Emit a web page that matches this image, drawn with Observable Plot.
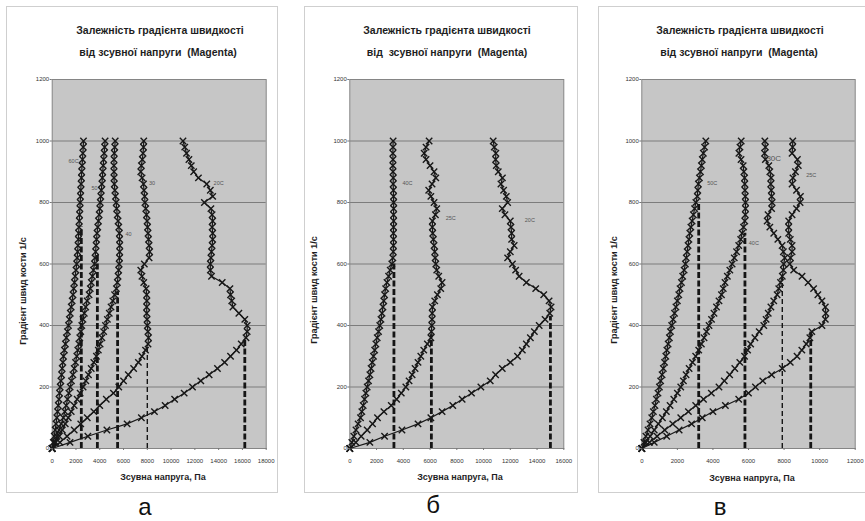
<!DOCTYPE html>
<html><head><meta charset="utf-8">
<script src="https://cdn.jsdelivr.net/npm/d3@7"></script>
<script src="https://cdn.jsdelivr.net/npm/@observablehq/plot@0.6"></script>
<style>
body{margin:0;background:#fff;font-family:"Liberation Sans",Arial,sans-serif;}
#wrap{position:relative;width:865px;height:521px;overflow:hidden;background:#fff;}
.frame{position:absolute;border:1px solid #cfcfcf;box-sizing:border-box;}
.t{position:absolute;transform:translate(-50%,-50%);white-space:pre;color:#1e1e1e;line-height:1;}
.title{font-weight:bold;font-size:10.5px;}
.xt{font-weight:bold;font-size:9px;}
.yt{font-weight:bold;font-size:9px;transform:translate(-50%,-50%) rotate(-90deg);}
.big{font-size:24px;color:#111;}
.panel{position:absolute;top:60px;}
</style></head>
<body><div id="wrap"></div>
<script>
// shared shear-rate grid (1/s)
const Y = [0,20,40,60,80,100,120,140,160,180,200,220,240,260,280,300,320,340,360,380,400,420,440,460,480,500,520,540,560,580,600,620,640,660,680,700,720,740,760,780,800,820,840,860,880,900,920,940,960,980,1000];

// panel а : shear stress (Pa) at each Y
const a_60C = [0,90,170,250,320,390,450,510,570,620,670,730,790,840,900,950,1030,1110,1190,1280,1370,1440,1520,1600,1680,1750,1810,1870,1930,2000,2060,2100,2140,2170,2200,2220,2250,2280,2300,2330,2350,2380,2400,2430,2460,2480,2510,2550,2580,2610,2630];
const a_50 = [0,200,390,580,760,940,1060,1180,1290,1400,1510,1620,1740,1850,1960,2070,2150,2240,2320,2400,2490,2590,2700,2820,2940,3100,3200,3290,3380,3470,3560,3600,3650,3690,3730,3770,3830,3890,3950,4000,4040,4090,4130,4180,4220,4250,4290,4330,4370,4410,4450];
const a_40 = [0,300,600,850,1100,1350,1600,1850,2100,2350,2600,2830,3050,3280,3500,3720,3880,4030,4180,4330,4480,4640,4800,4950,5100,5250,5400,5480,5540,5590,5630,5660,5680,5680,5670,5650,5600,5540,5470,5420,5380,5320,5270,5220,5200,5200,5190,5200,5220,5260,5300];
const a_30 = [0,650,1250,1850,2400,2950,3500,4000,4550,5150,5600,6000,6400,6850,7250,7550,7850,8060,8100,8050,8000,7980,7950,7950,7960,7950,7900,7700,7550,7450,7750,8150,8200,8150,8100,8060,8020,7980,7930,7870,7800,7780,7720,7680,7560,7450,7500,7580,7640,7680,7700];
const a_20C = [0,1500,3000,4600,6300,7500,8600,9500,10300,11100,11800,12500,13200,13900,14500,15000,15500,15900,16300,16400,16400,16200,15700,15200,15100,15000,14950,14300,13400,13300,13300,13350,13400,13450,13500,13500,13450,13500,13450,13350,12800,13500,13300,13000,12300,11900,11700,11500,11300,11150,11000];
const a_dashX = [2450,3800,5500,8000,16200];
const a_dashTop = [720,630,510,330,360];
const a_dashName = ["60C","50","40","30","20C"];
const a_labels = ["60C","50","40","30","20C"];
const a_labelX = [1800,3560,6420,8400,14000];
const a_labelY = [935,846,697,862,862];
const a_xticks = [0,2000,4000,6000,8000,10000,12000,14000,16000,18000];

// panel б
const b_40C = [0,150,300,460,620,800,900,1000,1100,1200,1300,1400,1500,1590,1680,1770,1860,1950,2050,2150,2240,2330,2410,2480,2540,2600,2680,2780,2900,3020,3140,3220,3250,3260,3270,3260,3270,3280,3270,3280,3280,3270,3260,3240,3250,3230,3220,3230,3220,3230,3240];
const b_25C = [0,450,850,1300,1700,2070,2550,3100,3500,3850,4190,4430,4660,4880,5100,5310,5530,5800,6060,6100,6130,6150,6160,6180,6350,6550,6800,6900,6650,6500,6430,6380,6350,6300,6250,6200,6170,6180,6400,6500,6300,6060,5900,6150,6430,6300,6000,5700,5560,5700,5930];
const b_20C = [0,1500,2600,3900,5100,6060,6900,7700,8400,9100,9800,10500,10900,11400,12000,12540,12900,13200,13500,13800,14160,14600,14950,15050,14900,14500,13900,13200,12660,12400,12160,11800,12000,12290,12100,12100,12050,12000,11600,11400,11800,11700,11500,11300,11410,11100,10950,10900,10920,10800,10720];
const b_dashX = [3300,6100,15000];
const b_dashTop = [600,370,430];
const b_dashName = ["40C","25C","20C"];
const b_labels = ["40C","25C","20C"];
const b_labelX = [4310,7550,13460];
const b_labelY = [862,750,742];
const b_xticks = [0,2000,4000,6000,8000,10000,12000,14000,16000];

// panel в
const c_50C = [0,120,230,350,460,560,650,740,820,910,990,1060,1140,1210,1280,1350,1410,1480,1550,1610,1680,1760,1840,1920,2000,2080,2150,2230,2300,2380,2450,2500,2550,2600,2650,2700,2760,2830,2900,2970,3040,3120,3150,3180,3240,3300,3350,3400,3460,3530,3600];
const c_40C = [0,230,470,700,930,1160,1380,1590,1800,2000,2190,2340,2490,2660,2850,3030,3200,3350,3500,3640,3780,3920,4060,4200,4340,4480,4580,4680,4810,4950,5080,5200,5330,5450,5560,5640,5720,5790,5820,5830,5830,5820,5800,5790,5780,5740,5700,5580,5460,5520,5590];
const c_30C = [0,430,860,1290,1740,2190,2620,3030,3470,3910,4340,4640,4940,5230,5510,5780,5950,6120,6360,6600,6860,6990,7110,7260,7420,7610,7700,7800,7900,7960,7980,8040,7960,7890,7650,7420,7200,7050,7100,7300,7330,7300,7280,7250,7270,7200,7140,6950,6900,6950,6920];
const c_25C = [0,700,1400,2100,2800,3400,4000,4700,5450,6000,6390,6800,7300,7900,8350,8730,9000,9250,9450,9560,10130,10320,10350,10320,10130,9900,9660,9350,9010,8540,8320,8360,8450,8450,8350,8260,8260,8260,8450,8700,8900,8920,8700,8450,8500,8640,8800,8750,8450,8480,8490];
const c_dashX = [3200,5800,7900,9500];
const c_dashTop = [800,700,570,380];
const c_dashName = ["50C","40C","30C","25C"];
const c_labels = ["50C","40C","30C","25C"];
const c_labelX = [3960,6300,7420,9530];
const c_labelY = [862,666,942,888];
const c_xticks = [0,2000,4000,6000,8000,10000,12000];

const yticks = [0,200,400,600,800,1000,1200];
const gridY = [200,400,600,800,1000];

const wrap = document.getElementById("wrap");
function addText(cls, txt, x, y){
  const d = document.createElement("div");
  d.className = "t " + cls; d.textContent = txt;
  d.style.left = x + "px"; d.style.top = y + "px";
  wrap.appendChild(d);
}
function addFrame(l,t,w,h){
  const d = document.createElement("div");
  d.className = "frame";
  Object.assign(d.style,{left:l+"px",top:t+"px",width:w+"px",height:h+"px"});
  wrap.appendChild(d);
}

function panel(cfg){
  const pts = [];
  cfg.curves.forEach(([name, xs]) => xs.forEach((x,i) => pts.push({x, y:Y[i], s:name})));
  const dashes = cfg.dashX.map((x,i) => ({x, top:cfg.dashTop[i], s:cfg.dashName[i]}));
  const labs = cfg.labels.map((t,i) => ({t, x:cfg.labelX[i], y:cfg.labelY[i]}));
  const thin = cfg.thin;
  const chart = Plot.plot({
    width: cfg.width, height: 420,
    marginLeft: cfg.ml, marginRight: cfg.mr, marginTop: 19, marginBottom: 32,
    style: {background:"transparent", fontFamily:"'Liberation Sans', Arial, sans-serif", fontSize:"6px", overflow:"visible"},
    x: {domain:[0, cfg.xmax]},
    y: {domain:[0,1200]},
    marks: [
      Plot.frame({fill:"#c6c6c6", stroke:null}),
      Plot.ruleY(gridY, {stroke:"#7c7c7c", strokeWidth:1}),
      Plot.frame({stroke:"#858585", strokeWidth:1}),
      Plot.ruleX(dashes.filter(d => d.s !== thin), {x:"x", y1:0, y2:"top", stroke:"#151515", strokeWidth:2.8, strokeDasharray:"6,2.5"}),
      Plot.ruleX(dashes.filter(d => d.s === thin), {x:"x", y1:0, y2:"top", stroke:"#151515", strokeWidth:1.4, strokeDasharray:"5,3"}),
      Plot.line(pts, {x:"x", y:"y", z:"s", stroke:"#181818", strokeWidth:1.2}),
      Plot.dot(pts, {x:"x", y:"y", symbol:"times", r:3, stroke:"#181818", strokeWidth:1.4}),
      Plot.text(labs, {x:"x", y:"y", text:"t", fill:"#555", fontSize: d => d.t === cfg.bigLabel ? 8 : 5.5}),
      Plot.axisX({ticks: cfg.xticks, tickFormat: d => String(d), tickSize: 2, tickPadding: 8, label: null, fill:"#333", stroke:"#777"}),
      Plot.axisY({ticks: yticks, tickFormat: d => String(d), tickSize: 2, tickPadding: 1, label: null, fill:"#333", stroke:"#777"})
    ]
  });
  const div = document.createElement("div");
  div.className = "panel"; div.style.left = cfg.left + "px";
  div.appendChild(chart);
  wrap.appendChild(div);
}

addFrame(6,6,272,487);
addFrame(304,6,274,487);
addFrame(598,6,270,487);

panel({left:0, width:285, ml:51.7, mr:19.3, xmax:18000, xticks:a_xticks,
  curves:[["60C",a_60C],["50",a_50],["40",a_40],["30",a_30],["20C",a_20C]],
  dashX:a_dashX, dashTop:a_dashTop, dashName:a_dashName, thin:"30",
  labels:a_labels, labelX:a_labelX, labelY:a_labelY});
panel({left:290, width:285, ml:59.3, mr:11.7, xmax:16000, xticks:b_xticks,
  curves:[["40C",b_40C],["25C",b_25C],["20C",b_20C]],
  dashX:b_dashX, dashTop:b_dashTop, dashName:b_dashName, thin:null,
  labels:b_labels, labelX:b_labelX, labelY:b_labelY});
panel({left:578, width:287, ml:63.3, mr:10.3, xmax:12000, xticks:c_xticks,
  curves:[["50C",c_50C],["40C",c_40C],["30C",c_30C],["25C",c_25C]],
  dashX:c_dashX, dashTop:c_dashTop, dashName:c_dashName, thin:"30C", bigLabel:"30C",
  labels:c_labels, labelX:c_labelX, labelY:c_labelY});

const t1 = "Залежність градієнта швидкості";
addText("title", t1, 160, 30);  addText("title", "від зсувної напруги  (Magenta)", 158, 52);
addText("title", t1, 447, 30);  addText("title", "від  зсувної напруги  (Magenta)", 447, 52);
addText("title", t1, 740, 30);  addText("title", "від зсувної напруги  (Magenta)", 739, 52);
const xt = "Зсувна напруга, Па", yt = "Градієнт швид кости 1/с";
addText("xt", xt, 163, 477); addText("xt", xt, 460, 477); addText("xt", xt, 752, 478);
addText("yt", yt, 23, 291); addText("yt", yt, 314, 290); addText("yt", yt, 613.7, 290);
addText("big", "а", 145, 507); addText("big", "б", 433, 505); addText("big", "в", 720, 507);
</script></body></html>
